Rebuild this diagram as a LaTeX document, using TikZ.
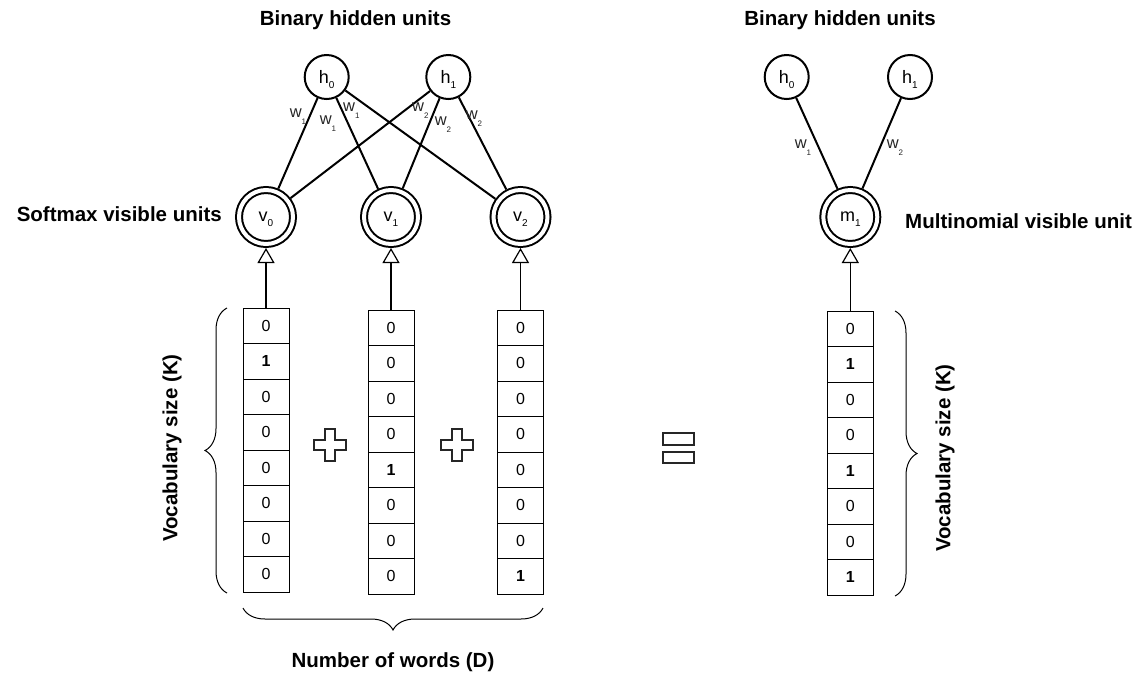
\documentclass[tikz,border=0pt]{standalone}
\usepackage{fontspec}
\setmainfont{Liberation Sans}
\usetikzlibrary{arrows.meta,decorations.pathreplacing}

\newcommand{\unitname}[2]{#1\raisebox{-5pt}[0pt][0pt]{\fontsize{10}{10}\selectfont #2}}
\newcommand{\wname}[2]{#1\raisebox{-7pt}[0pt][0pt]{\fontsize{8}{8}\selectfont #2}}

\tikzset{
    hidden/.style={circle, draw, line width=2pt, minimum size=44pt, inner sep=0pt, font=\fontsize{18}{18}\selectfont},
    visible/.style={circle, draw, line width=2pt, double, double distance=4pt, minimum size=54pt, inner sep=0pt, outer sep=4pt, font=\fontsize{18}{18}\selectfont},
    cell/.style={draw, line width=1pt, minimum width=46pt, minimum height=35.5pt, inner sep=0pt, font=\fontsize{16}{16}\selectfont},
    wlabel/.style={inner sep=0pt, font=\fontsize{16.5}{16.5}\selectfont, text=black!85},
    title/.style={inner sep=0pt, font=\fontsize{20.5}{24}\selectfont\bfseries},
    feed/.style={line width=1.2pt, -{Triangle[open, width=17pt, length=15pt]}},
    vocab/.style={decorate, decoration={brace, amplitude=22pt}, line width=1pt},
}

\begin{document}
\begin{tikzpicture}[x=1pt, y=-1pt]
    \useasboundingbox (0,0) rectangle (1145,675);

    % softmax model
    \node[title] (hidtitle) at (355.5,20) {Binary hidden units};
    \node[hidden] (h0) at (326.7,77) {\unitname{h}{0}};
    \node[hidden] (h1) at (448.3,77) {\unitname{h}{1}};

    \node[visible] (v0) at (266,217) {\unitname{v}{0}};
    \node[visible] (v1) at (391,217) {\unitname{v}{1}};
    \node[visible] (v2) at (520.5,217) {\unitname{v}{2}};
    \node[title, anchor=east] (softtitle) at (222,214) {Softmax visible units};

    \draw[line width=2pt] (h0) -- (v0);
    \draw[line width=2pt] (h0) -- (v1);
    \draw[line width=2pt] (h0) -- (v2);
    \draw[line width=2pt] (h1) -- (v0);
    \draw[line width=2pt] (h1) -- (v1);
    \draw[line width=2pt] (h1) -- (v2);

    \node[wlabel] (w00) at (298,113) {\wname{w}{1}};
    \node[wlabel] (w01) at (328,120.3) {\wname{w}{1}};
    \node[wlabel] (w02) at (351.3,107.3) {\wname{w}{1}};
    \node[wlabel] (w10) at (420.3,107) {\wname{w}{2}};
    \node[wlabel] (w11) at (443,121.3) {\wname{w}{2}};
    \node[wlabel] (w12) at (474,115.3) {\wname{w}{2}};

    % one-hot words
    \foreach \v [count=\i] in {0,\textbf{1},0,0,0,0,0,0}
        \node[cell] (wa\i) at (266, {308+35.5*\i-17.75}) {\v};
    \foreach \v [count=\i] in {0,0,0,0,\textbf{1},0,0,0}
        \node[cell] (wb\i) at (391, {310+35.5*\i-17.75}) {\v};
    \foreach \v [count=\i] in {0,0,0,0,0,0,0,\textbf{1}}
        \node[cell] (wc\i) at (520.5, {310+35.5*\i-17.75}) {\v};

    \draw[feed] (wa1.north) -- (v0.south);
    \draw[feed] (wb1.north) -- (v1.south);
    \draw[feed] (wc1.north) -- (v2.south);

    \foreach \px in {330,457}
        \draw[line width=1.5pt, black!85, shift={(\px,445)}] (-5,-16) -- (5,-16) -- (5,-5) -- (16,-5) -- (16,5) -- (5,5) -- (5,16) -- (-5,16) -- (-5,5) -- (-16,5) -- (-16,-5) -- (-5,-5) -- cycle;

    \draw[vocab] (227,593) -- (227,308);
    \node[title, rotate=90] (ktitle) at (172,448) {Vocabulary size (K)};
    \draw[vocab] (543,608) -- (243,608);
    \node[title] (dtitle) at (393,662) {Number of words (D)};

    % equals
    \draw[line width=1.5pt, black!85] (663,433) rectangle (694,445);
    \draw[line width=1.5pt, black!85] (663,452) rectangle (694,463);

    % multinomial model
    \node[title] (hidtitle2) at (840,20) {Binary hidden units};
    \node[hidden] (g0) at (786.7,77) {\unitname{h}{0}};
    \node[hidden] (g1) at (910,77) {\unitname{h}{1}};
    \node[visible] (m1) at (850.3,217) {\unitname{m}{1}};
    \node[title, anchor=west] (multtitle) at (905,221) {Multinomial visible unit};

    \draw[line width=2pt] (g0) -- (m1);
    \draw[line width=2pt] (g1) -- (m1);
    \node[wlabel] (u0) at (803,144.3) {\wname{w}{1}};
    \node[wlabel] (u1) at (895,144.3) {\wname{w}{2}};

    \foreach \v [count=\i] in {0,\textbf{1},0,0,\textbf{1},0,0,\textbf{1}}
        \node[cell] (mc\i) at (850.3, {311+35.5*\i-17.75}) {\v};
    \draw[feed] (mc1.north) -- (m1.south);

    \draw[vocab] (895,311) -- (895,596);
    \node[title, rotate=90] (ktitle2) at (945,458) {Vocabulary size (K)};
\end{tikzpicture}
\end{document}
